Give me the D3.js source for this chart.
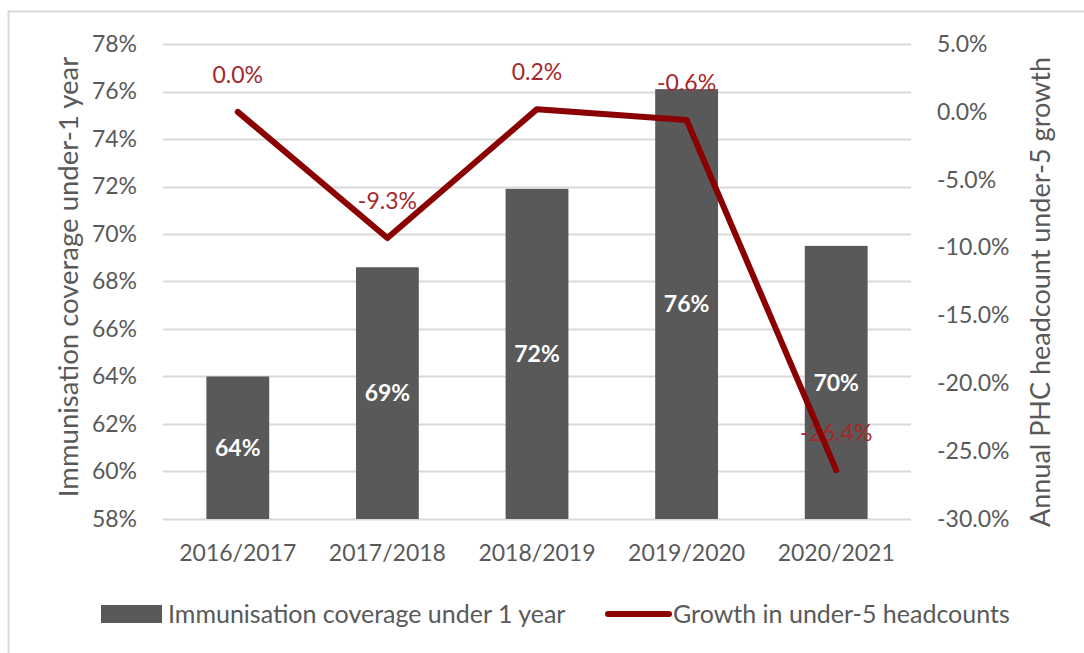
<!DOCTYPE html>
<html>
<head>
<meta charset="utf-8">
<script src="https://cdn.jsdelivr.net/npm/d3@7"></script>
<style>
  html, body { margin: 0; padding: 0; background: #ffffff; }
  svg { display: block; font-family: Lato, "Open Sans", sans-serif; }
</style>
</head>
<body>
<svg id="chart" width="1084" height="653"></svg>
<script>
// Financial years on the category axis
const years = ["2016/2017", "2017/2018", "2018/2019", "2019/2020", "2020/2021"];
// Immunisation coverage under 1 year (left axis, bars)
const coverage = [0.640, 0.686, 0.719, 0.761, 0.695];
// Annual growth in under-5 PHC headcounts (right axis, line)
const growth = [0.000, -0.093, 0.002, -0.006, -0.264];
// Axis tick values
const leftTicks = [0.58, 0.60, 0.62, 0.64, 0.66, 0.68, 0.70, 0.72, 0.74, 0.76, 0.78];
const rightTicks = [0.05, 0.00, -0.05, -0.10, -0.15, -0.20, -0.25, -0.30];
// Series names
const seriesNames = ["Immunisation coverage under 1 year", "Growth in under-5 headcounts"];
const axisTitles = ["Immunisation coverage under-1 year", "Annual PHC headcount under-5 growth"];

const barColor = "#595959";
const lineColor = "#8b0000";
const lineLabelColor = "#a3292c";
const textColor = "#595959";
const gridColor = "#d9d9d9";

const svg = d3.select("#chart");
const plot = { left: 163, right: 911, top: 44, bottom: 519 };

// outer frame
svg.append("rect")
  .attr("x", 8.5).attr("y", 11.5)
  .attr("width", 1100).attr("height", 700)
  .attr("fill", "none").attr("stroke", "#d9d9d9").attr("stroke-width", 2);

const x = d3.scaleBand().domain(years).range([plot.left, plot.right]).paddingInner(0.58).paddingOuter(0.29);
const yL = d3.scaleLinear().domain([0.58, 0.78]).range([plot.bottom, plot.top]);
const yR = d3.scaleLinear().domain([-0.30, 0.05]).range([plot.bottom, plot.top]);

// percentage formats with a plain hyphen for negatives
const fmtL = v => d3.format(".0%")(v).replace("\u2212", "-");
const fmtR = v => d3.format(".1%")(v).replace("\u2212", "-");

// gridlines
svg.append("g").selectAll("line").data(leftTicks).join("line")
  .attr("x1", plot.left).attr("x2", plot.right)
  .attr("y1", d => Math.round(yL(d)) + 0.5).attr("y2", d => Math.round(yL(d)) + 0.5)
  .attr("stroke", gridColor).attr("stroke-width", 2);

// left axis
const axL = d3.axisLeft(yL).tickValues(leftTicks).tickFormat(fmtL).tickSize(0).tickPadding(0);
svg.append("g").attr("transform", `translate(${137},0)`).call(axL)
  .call(g => g.select(".domain").remove())
  .selectAll("text").attr("fill", textColor).style("font-size", "23px").style("font-family", "Lato, sans-serif");

// right axis
const axR = d3.axisRight(yR).tickValues(rightTicks).tickFormat(fmtR).tickSize(0).tickPadding(0);
svg.append("g").attr("transform", `translate(${937},0)`).call(axR)
  .call(g => g.select(".domain").remove())
  .selectAll("text").attr("fill", textColor).style("font-size", "23px").style("font-family", "Lato, sans-serif");

// category axis
const axB = d3.axisBottom(x).tickSize(0).tickPadding(0);
svg.append("g").attr("transform", `translate(0,${545})`).call(axB)
  .call(g => g.select(".domain").remove())
  .selectAll("text").attr("fill", textColor).attr("dy", "0.71em").style("font-size", "23px").style("font-family", "Lato, sans-serif");

// bars
svg.append("g").selectAll("rect").data(years).join("rect")
  .attr("x", d => x(d)).attr("width", x.bandwidth())
  .attr("y", (d, i) => yL(coverage[i]))
  .attr("height", (d, i) => yL(0.58) - yL(coverage[i]))
  .attr("fill", barColor);

// bar value labels
svg.append("g").selectAll("text").data(years).join("text")
  .attr("x", d => x(d) + x.bandwidth() / 2)
  .attr("y", (d, i) => (yL(coverage[i]) + yL(0.58)) / 2)
  .attr("dy", "0.36em")
  .attr("text-anchor", "middle")
  .attr("fill", "#ffffff").style("font-weight", "bold").style("font-size", "23px")
  .text((d, i) => fmtL(coverage[i]));

// growth labels
svg.append("g").selectAll("text").data(years).join("text")
  .attr("x", d => x(d) + x.bandwidth() / 2)
  .attr("y", (d, i) => yR(growth[i]) - 37)
  .attr("dy", "0.36em")
  .attr("text-anchor", "middle")
  .attr("fill", lineLabelColor).style("font-size", "23px")
  .text((d, i) => fmtR(growth[i]));

// growth line
const line = d3.line()
  .x((d, i) => x(years[i]) + x.bandwidth() / 2)
  .y(d => yR(d));
svg.append("path").datum(growth)
  .attr("d", line)
  .attr("fill", "none").attr("stroke", lineColor).attr("stroke-width", 6)
  .attr("stroke-linejoin", "round").attr("stroke-linecap", "round");

// axis titles
svg.append("text")
  .attr("transform", `translate(${78},${277}) rotate(-90)`)
  .attr("text-anchor", "middle").attr("fill", textColor).style("font-size", "27.5px")
  .text(axisTitles[0]);
svg.append("text")
  .attr("transform", `translate(${1050},${292}) rotate(-90)`)
  .attr("text-anchor", "middle").attr("fill", textColor).style("font-size", "27px")
  .text(axisTitles[1]);

// legend
const legend = svg.append("g");
legend.append("rect").attr("x", 101).attr("y", 605).attr("width", 61).attr("height", 18).attr("fill", barColor);
legend.append("text").attr("x", 168).attr("y", 614).attr("dy", "0.36em")
  .attr("fill", textColor).style("font-size", "25px").text(seriesNames[0]);
legend.append("line").attr("x1", 608).attr("x2", 669).attr("y1", 614).attr("y2", 614)
  .attr("stroke", lineColor).attr("stroke-width", 6).attr("stroke-linecap", "round");
legend.append("text").attr("x", 673).attr("y", 614).attr("dy", "0.36em")
  .attr("fill", textColor).style("font-size", "25px").text(seriesNames[1]);
</script>
</body>
</html>
